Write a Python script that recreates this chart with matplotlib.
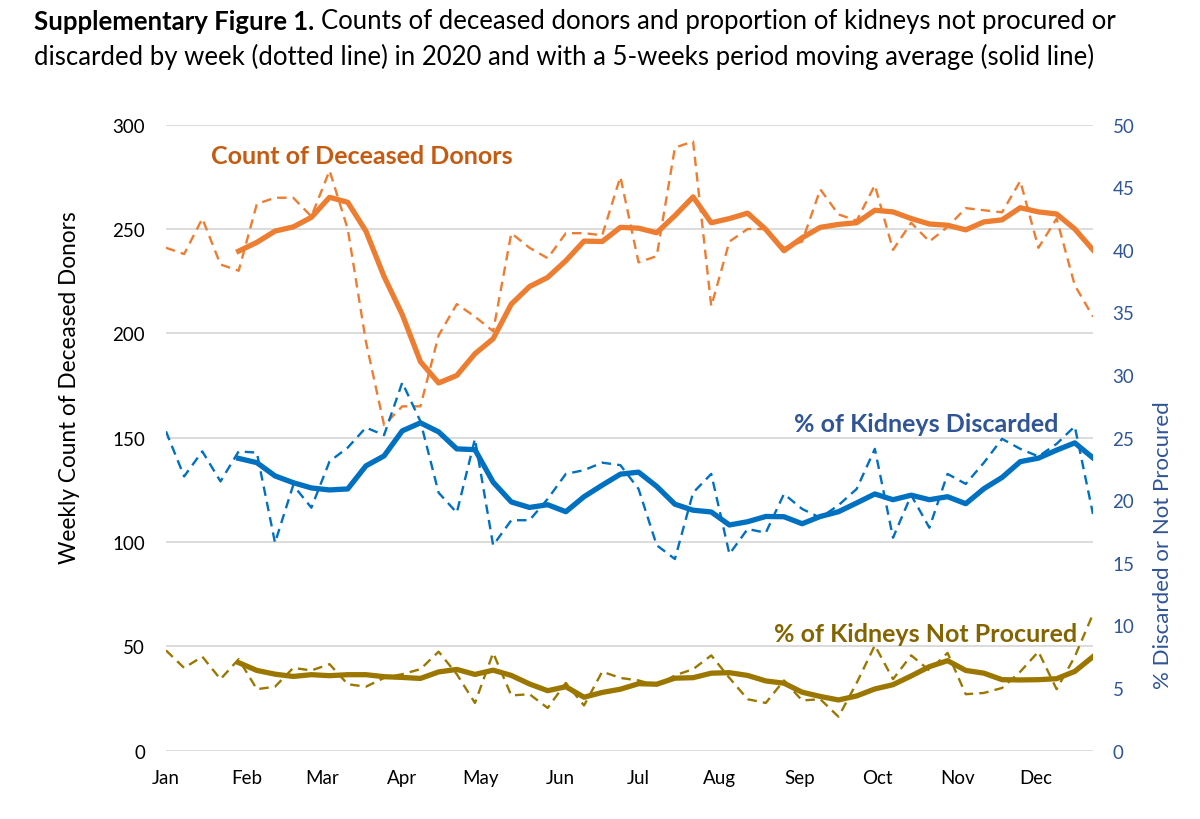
import numpy as np
import pandas as pd
import matplotlib
matplotlib.use('Agg')
import matplotlib.pyplot as plt

# weekly values, 2020 (week 1 .. week 52)
donors = [241, 238, 255, 233, 230, 262, 265, 265, 256, 278,
          250, 196, 156, 165, 165, 199, 214, 208, 201, 248,
          241, 236, 248, 248, 247, 275, 234, 237, 289, 292,
          213, 244, 250, 250, 241, 244, 269, 257, 254, 271,
          240, 253, 244, 251, 260, 259, 258, 273, 241, 255,
          223, 208]
pct_discarded = [25.5, 21.9, 23.9, 21.5, 23.9, 23.8, 16.6, 21.2, 19.4, 23.1,
                 24.2, 25.8, 25.2, 29.4, 26.3, 20.6, 19.0, 24.9, 16.4, 18.4,
                 18.4, 20.1, 22.1, 22.4, 23.0, 22.8, 20.9, 16.4, 15.3, 20.6,
                 22.1, 15.7, 17.7, 17.4, 20.5, 19.3, 18.6, 19.6, 20.9, 24.1,
                 17.0, 20.4, 17.8, 22.1, 21.3, 23.0, 24.9, 24.1, 23.5, 24.5,
                 25.9, 18.9]
pct_not_procured = [8.0, 6.6, 7.5, 5.7, 7.3, 4.9, 5.1, 6.6, 6.4, 6.9,
                    5.3, 5.1, 5.8, 6.1, 6.5, 7.9, 6.1, 3.8, 7.8, 4.4,
                    4.5, 3.4, 5.4, 3.6, 6.3, 5.8, 5.6, 5.2, 6.0, 6.5,
                    7.6, 5.8, 4.1, 3.8, 5.6, 4.0, 4.1, 2.7, 5.4, 8.4,
                    5.7, 7.6, 6.4, 7.8, 4.5, 4.6, 5.0, 6.3, 7.9, 4.9,
                    7.5, 10.9]
months = ['Jan', 'Feb', 'Mar', 'Apr', 'May', 'Jun',
          'Jul', 'Aug', 'Sep', 'Oct', 'Nov', 'Dec']
month_first_day = [0, 31, 60, 91, 121, 152, 182, 213, 244, 274, 305, 335]

ORANGE, ORANGE_TXT = '#ED7D31', '#C55A11'
BLUE, BLUE_TXT = '#0070C0', '#2F5597'
GOLD, GOLD_TXT = '#9C7700', '#846400'
GRID = '#D9D9D9'


def ma5(values):
    # 5-week trailing moving average, like the Excel trendline
    return pd.Series(values).rolling(5).mean()


def px(x, y):
    return x / 1200, 1 - y / 820


plt.rcParams['font.family'] = ['Lato', 'DejaVu Sans']
fig = plt.figure(figsize=(12, 8.2), dpi=100)
ax = fig.add_axes([0.1383, 0.0835, 0.7725, 0.7632])
ax2 = ax.twinx()

day = np.arange(len(donors)) * 7
dash = (4, 2.6)

ax.plot(day, donors, color=ORANGE, lw=1.7, ls=(0, dash), zorder=3)
ax.plot(day, ma5(donors), color=ORANGE, lw=3.8, zorder=4)
ax2.plot(day, pct_discarded, color=BLUE, lw=1.7, ls=(0, dash), zorder=3)
ax2.plot(day, ma5(pct_discarded), color=BLUE, lw=3.8, zorder=4)
ax2.plot(day, pct_not_procured, color=GOLD, lw=1.7, ls=(0, dash), zorder=3)
ax2.plot(day, ma5(pct_not_procured), color=GOLD, lw=3.8, zorder=4)

ax.set_xlim(0, 357)
ax.set_ylim(0, 300)
ax2.set_ylim(0, 50)
ax.set_yticks(range(0, 301, 50))
ax2.set_yticks(range(0, 51, 5))
ax.set_xticks(month_first_day)
ax.set_xticklabels(months)

ax.yaxis.grid(True, color=GRID, lw=1.3)
ax.set_axisbelow(True)
for a in (ax, ax2):
    for s in a.spines.values():
        s.set_visible(False)
ax.tick_params(axis='y', length=0, pad=15, labelsize=13.5, labelcolor='black')
ax.tick_params(axis='x', length=0, pad=13, labelsize=13.5)
ax2.tick_params(axis='y', length=0, pad=14, labelsize=13.5, labelcolor=BLUE_TXT)

fig.text(*px(70, 388), 'Weekly Count of Deceased Donors', rotation=90,
         ha='center', va='center', fontsize=16.3)
fig.text(*px(1163, 545), '% Discarded or Not Procured', rotation=90,
         ha='center', va='center', fontsize=16, color=BLUE_TXT)

fig.text(*px(211, 157), 'Count of Deceased Donors', ha='left', va='center',
         fontsize=18, weight='bold', color=ORANGE_TXT)
fig.text(*px(1058, 425), '% of Kidneys Discarded', ha='right', va='center',
         fontsize=18, weight='bold', color=BLUE_TXT)
fig.text(*px(1077, 635), '% of Kidneys Not Procured', ha='right', va='center',
         fontsize=18, weight='bold', color=GOLD_TXT)

# title: bold lead-in, then plain text on the same line
t = fig.text(*px(34, 22), 'Supplementary Figure 1.', ha='left', va='center',
             fontsize=18.5, weight='bold')
fig.canvas.draw()
bb = t.get_window_extent()
fig.text((bb.x1 + 7) / 1200, 1 - 22 / 820,
         'Counts of deceased donors and proportion of kidneys not procured or',
         ha='left', va='center', fontsize=18.5)
fig.text(*px(34, 57),
         'discarded by week (dotted line) in 2020 and with a 5-weeks period moving average (solid line)',
         ha='left', va='center', fontsize=18.5)

fig.savefig('out.png', dpi=100)
